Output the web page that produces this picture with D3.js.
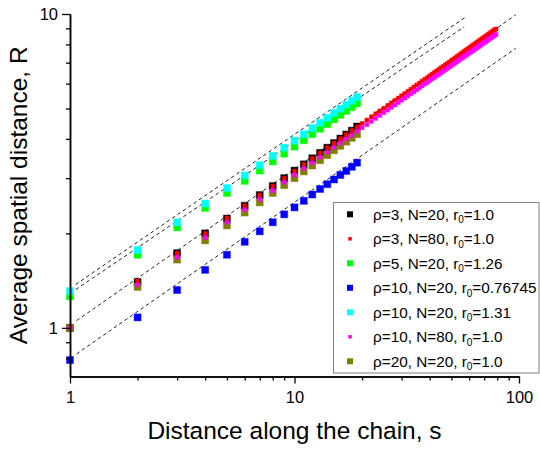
<!DOCTYPE html>
<html>
<head>
<meta charset="utf-8">
<script src="https://cdn.jsdelivr.net/npm/d3@7"></script>
<style>
  body { margin: 0; background: #fff; }
  svg { display: block; }
  text { font-family: "Liberation Sans", Arial, Helvetica, sans-serif; fill: #000; }
</style>
</head>
<body>
<svg id="chart" width="540" height="452"></svg>
<script>
// Distance along the chain (separation index s)
const sShort = [1,2,3,4,5,6,7,8,9,10,11,12,13,14,15,16,17,18,19];
const sLong = [1,2,3,4,5,6,7,8,9,10,11,12,13,14,15,16,17,18,19,20,
  21,22,23,24,25,26,27,28,29,30,31,32,33,34,35,36,37,38,39,40,
  41,42,43,44,45,46,47,48,49,50,51,52,53,54,55,56,57,58,59,60,
  61,62,63,64,65,66,67,68,69,70,71,72,73,74,75,76,77,78,79];

// Average spatial distance R for each chain
const rRho3N20 = [1.00,1.40,1.73,2.00,2.23,2.45,2.65,2.83,3.00,3.17,3.32,3.47,3.61,3.75,3.88,4.01,4.13,4.25,4.38];
const rRho3N80 = [1.00,1.41,1.73,2.00,2.24,2.45,2.65,2.83,3.00,3.16,3.32,3.47,3.61,3.75,3.88,4.01,4.13,4.25,4.37,4.48,
  4.59,4.70,4.81,4.91,5.01,5.11,5.21,5.31,5.40,5.49,5.58,5.67,5.76,5.85,5.94,6.02,6.11,6.19,6.27,6.35,
  6.43,6.51,6.59,6.66,6.74,6.81,6.89,6.96,7.03,7.11,7.18,7.25,7.32,7.39,7.46,7.53,7.60,7.67,7.73,7.80,
  7.86,7.93,7.99,8.06,8.12,8.18,8.25,8.31,8.37,8.43,8.49,8.55,8.61,8.67,8.73,8.79,8.85,8.91,8.96];
const rRho5N20 = [1.26,1.71,2.09,2.41,2.69,2.94,3.17,3.39,3.59,3.78,3.96,4.14,4.31,4.46,4.62,4.77,4.91,5.05,5.19];
const rRho10N20a = [0.79,1.08,1.32,1.53,1.71,1.88,2.03,2.17,2.30,2.42,2.54,2.66,2.77,2.87,2.97,3.07,3.16,3.26,3.36];
const rRho10N20b = [1.31,1.77,2.17,2.49,2.79,3.06,3.30,3.53,3.75,3.95,4.14,4.33,4.50,4.67,4.84,4.99,5.14,5.29,5.44];
const rRho10N80 = [1.00,1.37,1.68,1.94,2.17,2.38,2.57,2.74,2.91,3.07,3.22,3.36,3.50,3.63,3.76,3.88,4.00,4.11,4.23,4.34,
  4.44,4.55,4.65,4.75,4.85,4.94,5.04,5.13,5.22,5.31,5.40,5.48,5.57,5.65,5.73,5.82,5.90,5.98,6.05,6.13,
  6.21,6.28,6.36,6.43,6.50,6.57,6.64,6.71,6.78,6.85,6.92,6.99,7.05,7.12,7.19,7.25,7.32,7.38,7.44,7.51,
  7.57,7.63,7.69,7.75,7.81,7.87,7.93,7.99,8.05,8.11,8.16,8.22,8.28,8.34,8.39,8.45,8.50,8.56,8.61];
const rRho20N20 = [1.00,1.35,1.65,1.90,2.12,2.33,2.51,2.69,2.85,3.00,3.15,3.29,3.42,3.55,3.68,3.80,3.92,4.03,4.14];

// Guide lines for R ~ s^(1/2): [s start, R start, s end, R end]
const guideLines = [
  [1.06, 1.375, 57.6, 9.76],
  [1.06, 1.325, 57.0, 9.10],
  [1.07, 1.055, 96.7, 9.93],
  [1.07, 0.826, 96.7, 7.77]
];

// Axis ticks
const xMajorTicks = [1, 10, 100];
const xMinorTicks = [2,3,4,5,6,7,8,9,20,30,40,50,60,70,80,90];
const yMajorTicks = [1, 10];
const yMinorTicks = [0.8,0.9,2,3,4,5,6,7,8,9];

const series = [
  { name: "rho3N20",  lead: "ρ=3, N=20, r",  tail: "=1.0",     s: sShort, R: rRho3N20,  color: "#000000", big: true },
  { name: "rho3N80",  lead: "ρ=3, N=80, r",  tail: "=1.0",     s: sLong,  R: rRho3N80,  color: "#ff0000", big: false },
  { name: "rho5N20",  lead: "ρ=5, N=20, r",  tail: "=1.26",    s: sShort, R: rRho5N20,  color: "#00ff00", big: true },
  { name: "rho10N20a",lead: "ρ=10, N=20, r", tail: "=0.76745", s: sShort, R: rRho10N20a,color: "#0000ff", big: true },
  { name: "rho10N20b",lead: "ρ=10, N=20, r", tail: "=1.31",    s: sShort, R: rRho10N20b,color: "#00ffff", big: true },
  { name: "rho10N80", lead: "ρ=10, N=80, r", tail: "=1.0",     s: sLong,  R: rRho10N80, color: "#ff00ff", big: false },
  { name: "rho20N20", lead: "ρ=20, N=20, r", tail: "=1.0",     s: sShort, R: rRho20N20, color: "#808000", big: true }
];
// stacking order of the point clouds
const drawOrder = ["rho3N20","rho5N20","rho10N20a","rho10N20b","rho20N20","rho3N80","rho10N80"];

const svg = d3.select("#chart");
const x = d3.scaleLog().domain([1, 100]).range([70, 519]);
const y = d3.scaleLog().domain([0.7, 10]).range([376.5, 14]);

// dashed guides
const guideG = svg.append("g");
guideG.selectAll("line").data(guideLines).join("line")
  .attr("x1", d => x(d[0])).attr("y1", d => y(d[1]))
  .attr("x2", d => x(d[2])).attr("y2", d => y(d[3]))
  .attr("stroke", "#222").attr("stroke-width", 1)
  .attr("stroke-dasharray", "3.5,3");

// points
const pts = svg.append("g");
drawOrder.forEach(key => {
  const sr = series.find(d => d.name === key);
  const size = sr.big ? 7 : 4;
  const data = sr.s.map((s, i) => ({ s, R: sr.R[i] }));
  pts.append("g").selectAll("rect").data(data).join("rect")
    .attr("x", d => x(d.s) - size / 2)
    .attr("y", d => y(d.R) - size / 2)
    .attr("width", size).attr("height", size)
    .attr("fill", sr.color)
    .attr("stroke", sr.color).attr("stroke-opacity", 0.4).attr("stroke-width", 1);
});

// axes
const fontSize = 16.5;
const xAxisY = y.range()[0];
const yAxisX = x.range()[0];

const gxMinor = svg.append("g").attr("transform", `translate(0,${xAxisY})`)
  .call(d3.axisBottom(x).tickValues(xMinorTicks).tickSize(4).tickSizeOuter(0).tickFormat(""));
const gx = svg.append("g").attr("transform", `translate(0,${xAxisY})`)
  .call(d3.axisBottom(x).tickValues(xMajorTicks).tickSize(7).tickSizeOuter(0).tickPadding(8).tickFormat(d3.format("d")));

const gyMinor = svg.append("g").attr("transform", `translate(${yAxisX},0)`)
  .call(d3.axisLeft(y).tickValues(yMinorTicks).tickSize(4).tickSizeOuter(0).tickFormat(""));
const gy = svg.append("g").attr("transform", `translate(${yAxisX},0)`)
  .call(d3.axisLeft(y).tickValues(yMajorTicks).tickSize(8).tickSizeOuter(0).tickPadding(4).tickFormat(d3.format("d")));

[gxMinor, gx, gyMinor, gy].forEach(g => {
  g.selectAll("path.domain").attr("stroke", "#000").attr("stroke-width", 1.5);
  g.selectAll(".tick line").attr("stroke", "#000").attr("stroke-width", 1.3);
  g.selectAll(".tick text").attr("fill", "#000")
    .style("font-family", '"Liberation Sans", Arial, sans-serif')
    .style("font-size", fontSize + "px");
});

// axis titles
svg.append("text")
  .attr("x", (x.range()[0] + x.range()[1]) / 2).attr("y", 438.5)
  .attr("text-anchor", "middle").style("font-size", "24.5px")
  .text("Distance along the chain, s");
svg.append("text")
  .attr("transform", `translate(27,${(y.range()[0] + y.range()[1]) / 2}) rotate(-90)`)
  .attr("text-anchor", "middle").style("font-size", "24.5px")
  .text("Average spatial distance, R");

// legend
const legend = svg.append("g");
legend.append("rect")
  .attr("x", 333.5).attr("y", 202.5).attr("width", 205.5).attr("height", 170.5)
  .attr("fill", "#fff").attr("stroke", "#808080").attr("stroke-width", 1);
const rowY = i => 214.3 + i * 24.5;
series.forEach((sr, i) => {
  const ms = sr.big ? 6 : 3.5;
  legend.append("rect")
    .attr("x", 350 - ms / 2).attr("y", rowY(i) - ms / 2)
    .attr("width", ms).attr("height", ms).attr("fill", sr.color);
  const t = legend.append("text")
    .attr("x", 373).attr("y", rowY(i) + 5.4)
    .style("font-size", "15.3px");
  t.append("tspan").text(sr.lead);
  t.append("tspan").attr("dy", 3.5).style("font-size", "10px").text("0");
  t.append("tspan").attr("dy", -3.5).text(sr.tail);
});
</script>
</body>
</html>
